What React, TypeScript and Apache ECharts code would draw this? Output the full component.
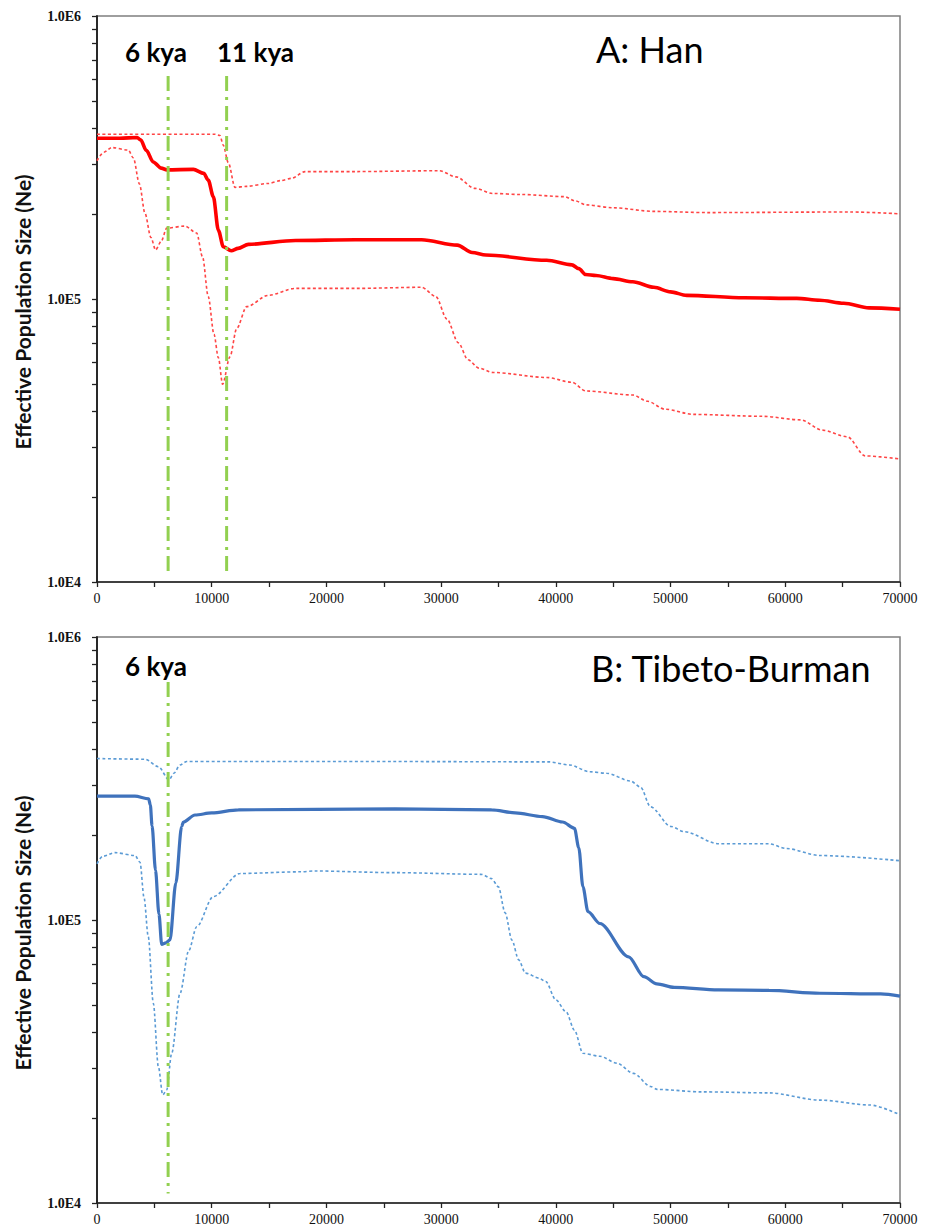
import React, { useEffect, useRef } from "react";
import * as echarts from "echarts";

// ---------- Data (years ago, effective population size) ----------
const hanMean: [number, number][] = [
  [0, 370000], [2000, 370000], [3500, 372000], [3800, 365000], [4300, 335000], [4900, 305000],
  [5600, 290000], [6100, 286000], [8400, 287000], [9300, 278000], [9700, 263000],
  [10140, 230000], [10580, 175000], [11010, 153000], [11700, 148000], [12300, 151000],
  [13200, 156000], [17300, 161000], [22500, 162000], [28300, 162000], [31400, 155000],
  [32700, 146000], [33900, 143000], [39200, 137000], [41400, 132000], [42000, 128000],
  [42600, 122000], [43500, 121000], [45000, 118000], [46700, 115000], [48550, 110000],
  [50000, 106000], [51400, 103000], [56400, 101000], [61000, 100500], [63000, 99000],
  [65100, 96600], [67300, 93000], [70000, 92000],
];
const hanUpper: [number, number][] = [
  [0, 382000], [10300, 382000], [10720, 378000], [11000, 350000], [11450, 303000],
  [12030, 248000], [13000, 250000], [14930, 256000], [16000, 262000], [16970, 267000],
  [18130, 282000], [22490, 282000], [29850, 284000], [31300, 270000], [32950, 246000],
  [34500, 236000], [37000, 234000], [40770, 230000], [41700, 222000], [42630, 215000],
  [45000, 210000], [48550, 204000], [53240, 202000], [65700, 203000], [70000, 200000],
];
const hanLower: [number, number][] = [
  [0, 308000], [600, 330000], [1280, 343000], [2730, 336000], [3170, 315000],
  [3700, 255000], [4180, 201000], [4700, 165000], [5110, 149000], [5600, 160000],
  [6080, 178000], [7670, 181000], [8690, 171000], [9200, 141000], [9700, 102000],
  [10200, 75000], [10580, 62000], [10950, 50000], [11590, 62500], [12180, 78700],
  [13050, 94000], [14930, 103000], [17260, 109000], [22490, 109000], [28300, 110000],
  [29540, 102000], [30500, 85000], [31500, 70000], [32340, 61000], [33300, 57000],
  [34520, 55000], [39210, 52800], [41390, 50800], [42630, 47300], [46690, 45800],
  [48000, 43500], [49500, 40800], [52000, 39100], [58000, 38500], [61350, 37400],
  [63230, 34400], [65400, 32600], [66970, 27900], [70000, 27200],
];

const tbMean: [number, number][] = [
  [0, 274000], [3300, 274000], [4500, 268000], [4650, 255000], [4800, 215000],
  [5100, 150000], [5400, 105000], [5640, 82000], [6000, 83000], [6360, 85000],
  [6870, 135000], [7380, 214000], [7530, 222000], [8540, 235000], [10000, 239000],
  [12320, 245000], [25980, 247000], [34400, 245000], [36460, 239000], [38830, 232000],
  [40590, 222000], [41620, 211000], [42000, 180000], [42360, 131000], [42800, 107000],
  [43840, 97200], [46340, 74100], [47670, 63100], [48800, 59500], [50320, 57800],
  [54160, 56600], [58580, 56400], [63010, 55100], [68320, 54800], [70000, 53800],
];
const tbUpper: [number, number][] = [
  [0, 372000], [4180, 370000], [5350, 348000], [6280, 313000], [6700, 330000],
  [7240, 353000], [7820, 363000], [25980, 363000], [39400, 362000], [41180, 353000],
  [42950, 334000], [44430, 330000], [46500, 310000], [47380, 295000], [48260, 251000],
  [50030, 214000], [51210, 205000], [54160, 186000], [58580, 186000], [60060, 179000],
  [63010, 169000], [70000, 162000],
];
const tbLower: [number, number][] = [
  [0, 158000], [500, 168000], [1570, 173000], [3310, 169000], [3750, 160000],
  [4100, 120000], [4470, 87300], [4910, 50800], [5350, 30300], [5730, 24100],
  [6080, 25100], [6510, 33800], [7240, 55100], [8000, 78000], [8690, 94700],
  [10140, 121000], [12460, 146000], [17690, 148000], [19000, 149000], [25980, 147000],
  [33520, 145000], [34400, 140000], [34990, 131000], [35580, 106000], [36170, 84900],
  [36760, 72300], [37350, 64900], [38530, 62300], [39120, 60600], [40000, 52200],
  [40890, 47400], [41620, 40800], [42360, 33800], [43840, 33000], [45310, 31200],
  [46780, 28700], [48260, 25800], [48840, 25200], [52690, 24700], [58580, 24500],
  [63010, 23100], [67360, 22200], [70000, 20500],
];

// event markers (years ago)
const eventsA = [6200, 11300];
const eventsB = [6200];
const eventLabelsA = ["6 kya", "11 kya"];
const eventLabelsB = ["6 kya"];

const xTicks = [0, 10000, 20000, 30000, 40000, 50000, 60000, 70000];
const yMin = 1e4;
const yMax = 1e6;
const minorMantissas = [2, 3, 4, 5, 6, 7, 8, 9];

const GREEN = "#92D050";
const RED = "#FF0000";
const BLUE_D = "#3F72BC";
const BLUE_L = "#5B9BD5";

export default function App() {
  const ref = useRef<HTMLDivElement>(null);

  useEffect(() => {
    if (!ref.current) return;
    const chart = echarts.init(ref.current, undefined, { renderer: "svg" });

    const rects = [
      { left: 97, top: 16, width: 803, height: 566 },
      { left: 97, top: 637, width: 803, height: 566 },
    ];

    const minorVals: number[] = [];
    [4, 5].forEach((d) => minorMantissas.forEach((m) => minorVals.push(d + Math.log10(m))));

    const tickStyle = { color: "#222", width: 1.3 };
    const axisLineStyle = { color: "#222", width: 1.5 };

    const xAxes: any[] = rects.map((_, i) => ({
      type: "value",
      gridIndex: i,
      min: 0,
      max: 70000,
      interval: 5000,
      axisLine: { show: true, lineStyle: axisLineStyle },
      axisTick: { show: true, inside: false, length: 5, lineStyle: tickStyle },
      splitLine: { show: false },
      axisLabel: {
        margin: 9,
        fontFamily: "Liberation Serif",
        fontSize: 14,
        color: "#111",
        formatter: (v: number) => (xTicks.includes(v) ? String(v) : ""),
      },
    }));
    // helper grids (2, 3) carry only the minor log ticks
    rects.forEach((_, i) => {
      xAxes.push({
        type: "value",
        gridIndex: i + 2,
        min: 0,
        max: 70000,
        show: false,
      });
    });

    const yAxes: any[] = rects.map((_, i) => ({
      type: "log",
      logBase: 10,
      gridIndex: i,
      min: yMin,
      max: yMax,
      name: "Effective Population Size (Ne)",
      nameLocation: "middle",
      nameRotate: 90,
      nameGap: 64,
      nameTextStyle: {
        fontFamily: "Lato",
        fontWeight: "bold",
        fontSize: 21,
        color: "#111",
        padding: [0, 26, 0, 0],
      },
      axisLine: { show: true, lineStyle: axisLineStyle },
      axisTick: { show: true, inside: false, length: 5, lineStyle: tickStyle },
      splitLine: { show: false },
      axisLabel: {
        margin: 16,
        fontFamily: "Liberation Serif",
        fontWeight: "bold",
        fontSize: 14,
        color: "#111",
        formatter: (v: number) => "1.0E" + Math.round(Math.log10(v)),
      },
    }));
    rects.forEach((_, i) => {
      yAxes.push({
        type: "value",
        gridIndex: i + 2,
        min: 4,
        max: 6,
        position: "left",
        axisLine: { show: true, lineStyle: axisLineStyle },
        axisLabel: { show: false },
        splitLine: { show: false },
        axisTick: {
          show: true,
          inside: false,
          length: 5,
          customValues: minorVals,
          lineStyle: tickStyle,
        },
      });
    });

    const dashed = (data: [number, number][], color: string, idx: number, name: string) => ({
      name,
      type: "line",
      xAxisIndex: idx,
      yAxisIndex: idx,
      data,
      smooth: 0.3,
      smoothMonotone: "x",
      showSymbol: false,
      lineStyle: { color, width: 1.6, type: [3, 2.5] },
      z: 3,
    });
    const solid = (data: [number, number][], color: string, idx: number, name: string, w: number) => ({
      name,
      type: "line",
      xAxisIndex: idx,
      yAxisIndex: idx,
      data,
      smooth: 0.3,
      smoothMonotone: "x",
      showSymbol: false,
      lineStyle: { color, width: w },
      z: 4,
    });
    const eventLine = (x: number, idx: number, top: number, bottom: number) => ({
      name: "event",
      type: "line",
      xAxisIndex: idx,
      yAxisIndex: idx,
      data: [
        [x, top],
        [x, bottom],
      ],
      showSymbol: false,
      lineStyle: { color: GREEN, width: 3, type: [15, 6, 3, 6] },
      z: 5,
    });

    const series: any[] = [
      dashed(hanUpper, "#FF4545", 0, "Han upper"),
      dashed(hanLower, "#FF4545", 0, "Han lower"),
      solid(hanMean, RED, 0, "Han", 3.6),
      dashed(tbUpper, BLUE_L, 1, "TB upper"),
      dashed(tbLower, BLUE_L, 1, "TB lower"),
      solid(tbMean, BLUE_D, 1, "Tibeto-Burman", 3.2),
      ...eventsA.map((x) => eventLine(x, 0, 614000, 10660)),
      ...eventsB.map((x) => eventLine(x, 1, 693000, 10800)),
    ];

    const txt = (text: string, x: number, y: number, font: string) => ({
      type: "text",
      x,
      y,
      style: { text, font, fill: "#000", align: "left", verticalAlign: "middle" },
      z: 10,
    });

    const graphic = [
      txt(eventLabelsA[0], 125, 52, "bold 26px Lato"),
      txt(eventLabelsA[1], 217, 52, "bold 26px Lato"),
      txt(eventLabelsB[0], 125, 666, "bold 26px Lato"),
      txt("A: Han", 596, 49, "36px Lato"),
      txt("B: Tibeto-Burman", 591, 668, "36px Lato"),
    ];

    chart.setOption({
      animation: false,
      backgroundColor: "#fff",
      grid: [
        ...rects.map((g) => ({
          ...g,
          show: true,
          borderColor: "#7f7f7f",
          borderWidth: 1.5,
          backgroundColor: "transparent",
        })),
        ...rects.map((g) => ({ ...g, show: false })),
      ],
      xAxis: xAxes,
      yAxis: yAxes,
      series,
      graphic,
    });

    return () => chart.dispose();
  }, []);

  return (
    <div
      ref={ref}
      style={{ position: "absolute", left: 0, top: 0, width: 933, height: 1226, background: "#fff" }}
    />
  );
}
